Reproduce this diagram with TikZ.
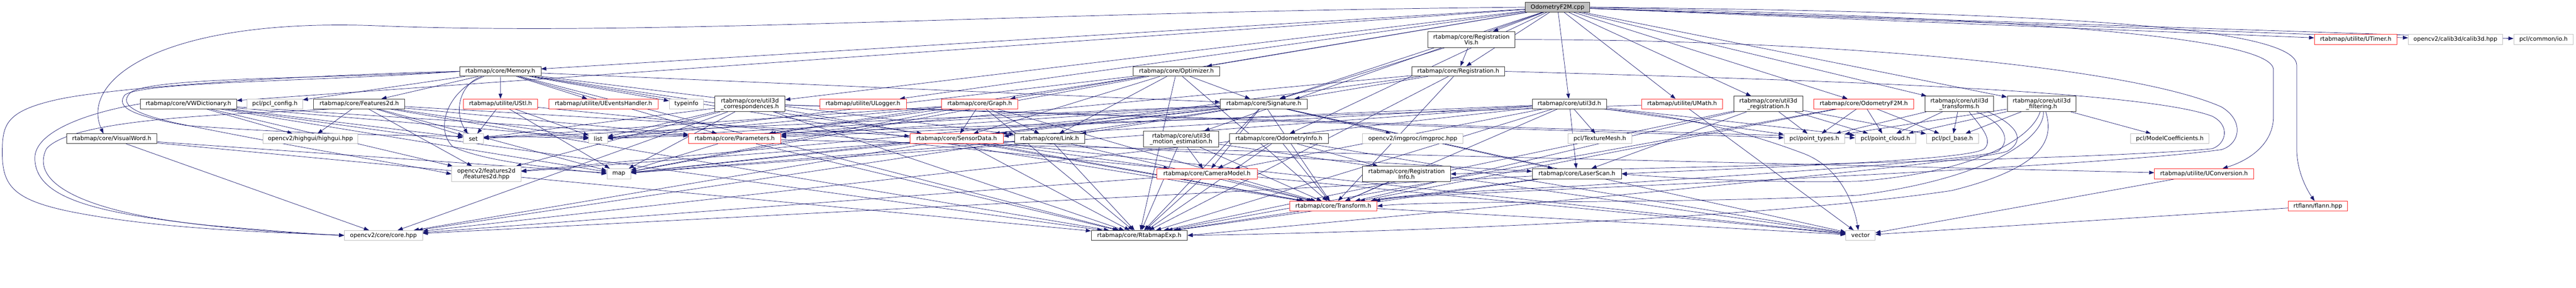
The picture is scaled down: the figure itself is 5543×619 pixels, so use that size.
\documentclass[tikz,border=0pt]{standalone}
\usepackage{fontspec}
\setmainfont{DejaVu Sans}
\usetikzlibrary{arrows.meta}
\pgfdeclarelayer{bg}
\pgfsetlayers{bg,main}
\definecolor{edgeblue}{RGB}{25,25,112}
\definecolor{greyS}{RGB}{191,191,191}
\definecolor{nred}{RGB}{255,40,40}
\begin{document}
\begin{tikzpicture}[x=1pt,y=-1pt,
  box/.style={rectangle, draw, fill=white, inner sep=0pt, line width=1pt,
    font=\fontsize{12.5}{12.3}\selectfont, align=center, text=black},
  blk/.style={box, draw=black!80},
  rd/.style={box, draw=nred},
  gy/.style={box, draw=greyS},
  rt/.style={box, draw=black!80, fill=greyS},
  e/.style={draw=edgeblue, line width=0.8pt, -{Triangle[length=11pt,width=8pt]}},
]
\useasboundingbox (0,0) rectangle (5543,619);

% rank 0
\node[rt, minimum width=139pt, minimum height=21pt] (root) at (3351.5,15.5) {OdometryF2M.cpp};
% rank 1
\node[blk, minimum width=188pt, minimum height=34pt] (regvis) at (3166,85) {rtabmap/core/Registration\\Vis.h};
\node[rd, minimum width=178pt, minimum height=22pt] (utimer) at (5069,85) {rtabmap/utilite/UTimer.h};
\node[gy, minimum width=203pt, minimum height=22pt] (calib) at (5283.5,85) {opencv2/calib3d/calib3d.hpp};
\node[gy, minimum width=128pt, minimum height=22pt] (pclio) at (5473,85) {pcl/common/io.h};
% rank 2
\node[blk, minimum width=175pt, minimum height=21pt] (memory) at (1076.5,153.5) {rtabmap/core/Memory.h};
\node[blk, minimum width=187pt, minimum height=21pt] (optimizer) at (2531.5,153.5) {rtabmap/core/Optimizer.h};
\node[blk, minimum width=200pt, minimum height=21pt] (registration) at (3138,153.5) {rtabmap/core/Registration.h};
% rank 3
\node[blk, minimum width=207pt, minimum height=21pt] (vwdict) at (405.5,223.5) {rtabmap/core/VWDictionary.h};
\node[gy, minimum width=119pt, minimum height=21pt] (pclconfig) at (591.5,223.5) {pcl/pcl\_config.h};
\node[blk, minimum width=196pt, minimum height=21pt] (features2d) at (773,223.5) {rtabmap/core/Features2d.h};
\node[rd, minimum width=160pt, minimum height=21pt] (ustl) at (1077,223.5) {rtabmap/utilite/UStl.h};
\node[rd, minimum width=235pt, minimum height=21pt] (uevents) at (1298.5,223.5) {rtabmap/utilite/UEventsHandler.h};
\node[gy, minimum width=74pt, minimum height=21pt] (typeinfo) at (1477,223.5) {typeinfo};
\node[blk, minimum width=151pt, minimum height=33pt] (u3dcorr) at (1613.5,223.5) {rtabmap/core/util3d\\\_correspondences.h};
\node[rd, minimum width=186pt, minimum height=21pt] (ulogger) at (1857,223.5) {rtabmap/utilite/ULogger.h};
\node[rd, minimum width=164pt, minimum height=21pt] (graph) at (2108,223.5) {rtabmap/core/Graph.h};
\node[blk, minimum width=187pt, minimum height=21pt] (signature) at (2719.5,223.5) {rtabmap/core/Signature.h};
\node[blk, minimum width=160pt, minimum height=21pt] (util3d) at (3377,223.5) {rtabmap/core/util3d.h};
\node[rd, minimum width=175pt, minimum height=21pt] (umath) at (3619.5,223.5) {rtabmap/utilite/UMath.h};
\node[blk, minimum width=148pt, minimum height=33pt] (u3dreg) at (3805,223.5) {rtabmap/core/util3d\\\_registration.h};
\node[rd, minimum width=215pt, minimum height=21pt] (odomh) at (4010.5,223.5) {rtabmap/core/OdometryF2M.h};
\node[blk, minimum width=148pt, minimum height=33pt] (u3dtrans) at (4216,223.5) {rtabmap/core/util3d\\\_transforms.h};
\node[blk, minimum width=148pt, minimum height=33pt] (u3dfilt) at (4393,223.5) {rtabmap/core/util3d\\\_filtering.h};
% rank 4
\node[blk, minimum width=195pt, minimum height=21pt] (visualword) at (240.5,298.5) {rtabmap/core/VisualWord.h};
\node[gy, minimum width=204pt, minimum height=21pt] (highgui) at (668,298.5) {opencv2/highgui/highgui.hpp};
\node[gy, minimum width=43pt, minimum height=21pt] (set) at (1018.5,298.5) {set};
\node[gy, minimum width=40pt, minimum height=21pt] (list) at (1287,298.5) {list};
\node[rd, minimum width=198pt, minimum height=21pt] (params) at (1581,298.5) {rtabmap/core/Parameters.h};
\node[rd, minimum width=201pt, minimum height=21pt] (sensordata) at (2058.5,298.5) {rtabmap/core/SensorData.h};
\node[blk, minimum width=151pt, minimum height=21pt] (link) at (2258.5,298.5) {rtabmap/core/Link.h};
\node[blk, minimum width=161pt, minimum height=34pt] (u3dmotion) at (2541.5,299) {rtabmap/core/util3d\\\_motion\_estimation.h};
\node[blk, minimum width=212pt, minimum height=21pt] (odominfo) at (2752,298.5) {rtabmap/core/OdometryInfo.h};
\node[gy, minimum width=216pt, minimum height=21pt] (imgproc) at (3040,298.5) {opencv2/imgproc/imgproc.hpp};
\node[gy, minimum width=137pt, minimum height=21pt] (texmesh) at (3442.5,298.5) {pcl/TextureMesh.h};
\node[gy, minimum width=130pt, minimum height=21pt] (ptypes) at (3904,298.5) {pcl/point\_types.h};
\node[gy, minimum width=130pt, minimum height=21pt] (pcloud) at (4057,298.5) {pcl/point\_cloud.h};
\node[gy, minimum width=112pt, minimum height=21pt] (pclbase) at (4201,298.5) {pcl/pcl\_base.h};
\node[gy, minimum width=168pt, minimum height=21pt] (modelcoef) at (4669,298.5) {pcl/ModelCoefficients.h};
% rank 5
\node[gy, minimum width=149pt, minimum height=33pt] (f2dhpp) at (1046.5,374.5) {opencv2/features2d\\/features2d.hpp};
\node[gy, minimum width=51pt, minimum height=22pt] (map) at (1331.5,374) {map};
\node[rd, minimum width=216pt, minimum height=22pt] (cammodel) at (2597,374) {rtabmap/core/CameraModel.h};
\node[blk, minimum width=189pt, minimum height=33pt] (reginfo) at (3026.5,374.5) {rtabmap/core/Registration\\Info.h};
\node[blk, minimum width=192pt, minimum height=22pt] (laserscan) at (3393,374) {rtabmap/core/LaserScan.h};
\node[rd, minimum width=213pt, minimum height=22pt] (uconv) at (4742.5,374) {rtabmap/utilite/UConversion.h};
% rank 6
\node[rd, minimum width=188pt, minimum height=21pt] (transform) at (2869,443.5) {rtabmap/core/Transform.h};
\node[rd, minimum width=127pt, minimum height=21pt] (flann) at (4987.5,443.5) {rtflann/flann.hpp};
% rank 7
\node[gy, minimum width=168pt, minimum height=21pt] (core) at (825,506.5) {opencv2/core/core.hpp};
\node[blk, minimum width=207pt, minimum height=21pt] (rtabexp) at (2451.5,506.5) {rtabmap/core/RtabmapExp.h};
\node[gy, minimum width=63pt, minimum height=21pt] (vector) at (4003.5,506.5) {vector};

\begin{pgfonlayer}{bg}
\foreach \a/\b in {
 root/regvis, root/registration, root/memory, root/optimizer, root/vwdict,
 root/u3dcorr, root/ulogger, root/graph, root/signature, root/util3d, root/umath,
 root/u3dreg, root/odomh, root/u3dtrans, root/u3dfilt, root/utimer, root/calib,
 root/pclio, root/odominfo, root/u3dmotion,
 regvis/registration, regvis/signature,
 registration/signature, registration/params, registration/sensordata,
 registration/transform, registration/rtabexp,
 memory/ustl, memory/uevents, memory/typeinfo, memory/params, memory/sensordata,
 memory/link, memory/signature, memory/features2d, memory/pclconfig, memory/rtabexp,
 memory/transform,
 optimizer/map, optimizer/list, optimizer/params, optimizer/link, optimizer/signature,
 optimizer/rtabexp, optimizer/transform, optimizer/sensordata,
 vwdict/rtabexp, vwdict/params, vwdict/f2dhpp, vwdict/set, vwdict/list, vwdict/map,
 vwdict/highgui,
 features2d/highgui, features2d/f2dhpp, features2d/params, features2d/sensordata,
 features2d/rtabexp, features2d/list, features2d/set, features2d/map,
 ustl/set, ustl/list, ustl/map, ustl/vector,
 u3dcorr/rtabexp, u3dcorr/core, u3dcorr/set, u3dcorr/map, u3dcorr/list, u3dcorr/f2dhpp,
 u3dcorr/pcloud, u3dcorr/ptypes, u3dcorr/transform,
 graph/link, graph/map, graph/list, graph/rtabexp, graph/transform, graph/sensordata,
 graph/params, graph/set,
 signature/rtabexp, signature/core, signature/f2dhpp, signature/map, signature/list,
 signature/set, signature/vector, signature/sensordata, signature/link,
 signature/transform, signature/params, signature/imgproc, signature/laserscan,
 signature/cammodel,
 util3d/rtabexp, util3d/core, util3d/pcloud, util3d/ptypes, util3d/texmesh,
 util3d/transform, util3d/sensordata, util3d/params, util3d/cammodel,
 util3d/laserscan, util3d/map,
 umath/list, umath/vector,
 u3dreg/rtabexp, u3dreg/ptypes, u3dreg/pcloud, u3dreg/transform, u3dreg/laserscan,
 u3dreg/pclbase,
 odomh/ptypes, odomh/pcloud, odomh/pclbase, odomh/transform, odomh/rtabexp,
 u3dtrans/ptypes, u3dtrans/pcloud, u3dtrans/pclbase,
 u3dfilt/ptypes, u3dfilt/pcloud, u3dfilt/pclbase, u3dfilt/modelcoef,
 visualword/rtabexp, visualword/map, visualword/core,
 sensordata/rtabexp, sensordata/core, sensordata/transform, sensordata/cammodel,
 sensordata/laserscan, sensordata/f2dhpp, sensordata/vector, sensordata/map,
 link/rtabexp, link/transform, link/map,
 params/map, params/rtabexp, params/uconv,
 u3dmotion/rtabexp, u3dmotion/cammodel, u3dmotion/transform, u3dmotion/vector,
 odominfo/cammodel, odominfo/transform, odominfo/reginfo, odominfo/rtabexp,
 odominfo/vector,
 cammodel/rtabexp, cammodel/transform, cammodel/core,
 laserscan/rtabexp, laserscan/transform, laserscan/core,
 transform/rtabexp, transform/vector, reginfo/transform,
 uconv/vector, flann/vector}
 { \draw[e] (\a) -- (\b); }

% curved connectors
\draw[e] (root.west) .. controls (2200,25) and (1400,80) .. (800,55)
  .. controls (350,40) and (170,170) .. ([xshift=-18pt]visualword.north);
\draw[e] (memory.west) .. controls (700,160) and (250,185) .. (120,215)
  .. controls (10,240) and (5,270) .. (5,330)
  .. controls (5,400) and (30,430) .. (150,455)
  .. controls (350,495) and (600,500) .. (core.west);
\draw[e] (vwdict.west) .. controls (200,240) and (75,280) .. (75,340)
  .. controls (75,410) and (160,445) .. (330,470)
  .. controls (500,495) and (650,503) .. (core.west);
\draw[e] ([xshift=-60pt]features2d.south) .. controls (550,245) and (160,250) .. (100,320)
  .. controls (60,400) and (200,460) .. (450,485)
  .. controls (600,498) and (680,504) .. (core.west);
\draw[e] ([xshift=-35pt]memory.south) .. controls (960,195) and (935,280) .. (975,316)
  .. controls (1050,350) and (1200,362) .. (map.west);
\draw[e] ([xshift=-40pt]memory.south) .. controls (990,180) and (975,240) .. ([xshift=-12pt]set.north);
\draw[e] (memory.west) .. controls (700,170) and (320,165) .. (280,200)
  .. controls (255,225) and (290,245) .. (380,265)
  .. controls (650,320) and (850,350) .. (f2dhpp.west);
\draw[e] (memory.west) .. controls (700,175) and (300,175) .. (268,205)
  .. controls (250,230) and (280,248) .. (400,270)
  .. controls (800,300) and (1100,290) .. (list.west);
\draw[e] (root.east) .. controls (4300,25) and (4940,50) .. (4942,140) -- (4942,320)
  .. controls (4942,370) and (4965,410) .. ([xshift=-7pt]flann.north);
\draw[e] (root.east) .. controls (4200,35) and (4890,70) .. (4892,150) -- (4892,250)
  .. controls (4892,310) and (4840,345) .. ([xshift=40pt]uconv.north);
\draw[e] ([xshift=70pt]util3d.south) .. controls (3650,250) and (3800,300) .. (3880,330)
  .. controls (3960,360) and (3990,440) .. ([xshift=-5pt]vector.north);
\draw[e] (regvis.east) .. controls (4000,86) and (4600,150) .. (4780,230)
  .. controls (4830,260) and (4820,310) .. (4780,322)
  .. controls (4500,360) and (3500,400) .. (3200,415)
  .. controls (3050,422) and (2990,425) .. ([xshift=90pt]transform.north);
\draw[e] (registration.east) .. controls (3800,170) and (4600,190) .. (4760,250)
  .. controls (4800,270) and (4790,310) .. (4760,320)
  .. controls (4500,345) and (3500,360) .. (reginfo.east);
\draw[e] ([xshift=21pt]u3dtrans.south) .. controls (4260,270) and (4290,300) .. (4270,320)
  .. controls (4240,345) and (3800,360) .. (laserscan.east);
\draw[e] ([xshift=37pt]u3dtrans.south) .. controls (4310,265) and (4330,300) .. (4300,325)
  .. controls (4260,345) and (3700,380) .. (3400,400)
  .. controls (3200,410) and (3000,420) .. ([xshift=80pt]transform.north);
\draw[e] ([xshift=62pt]u3dtrans.south) .. controls (4340,270) and (4360,300) .. (4320,325)
  .. controls (4280,345) and (3500,420) .. (rtabexp.east);
\draw[e] ([xshift=-3pt]u3dfilt.south) .. controls (4370,300) and (4250,370) .. (4000,390)
  .. controls (3800,395) and (3550,380) .. (laserscan.east);
\draw[e] ([xshift=4pt]u3dfilt.south) .. controls (4400,290) and (4300,380) .. (4000,420)
  .. controls (3600,440) and (3100,430) .. (transform.east);
\draw[e] ([xshift=9pt]u3dfilt.south) .. controls (4420,300) and (4400,360) .. (4200,410)
  .. controls (3800,470) and (3000,500) .. (rtabexp.east);
\end{pgfonlayer}
\end{tikzpicture}
\end{document}
